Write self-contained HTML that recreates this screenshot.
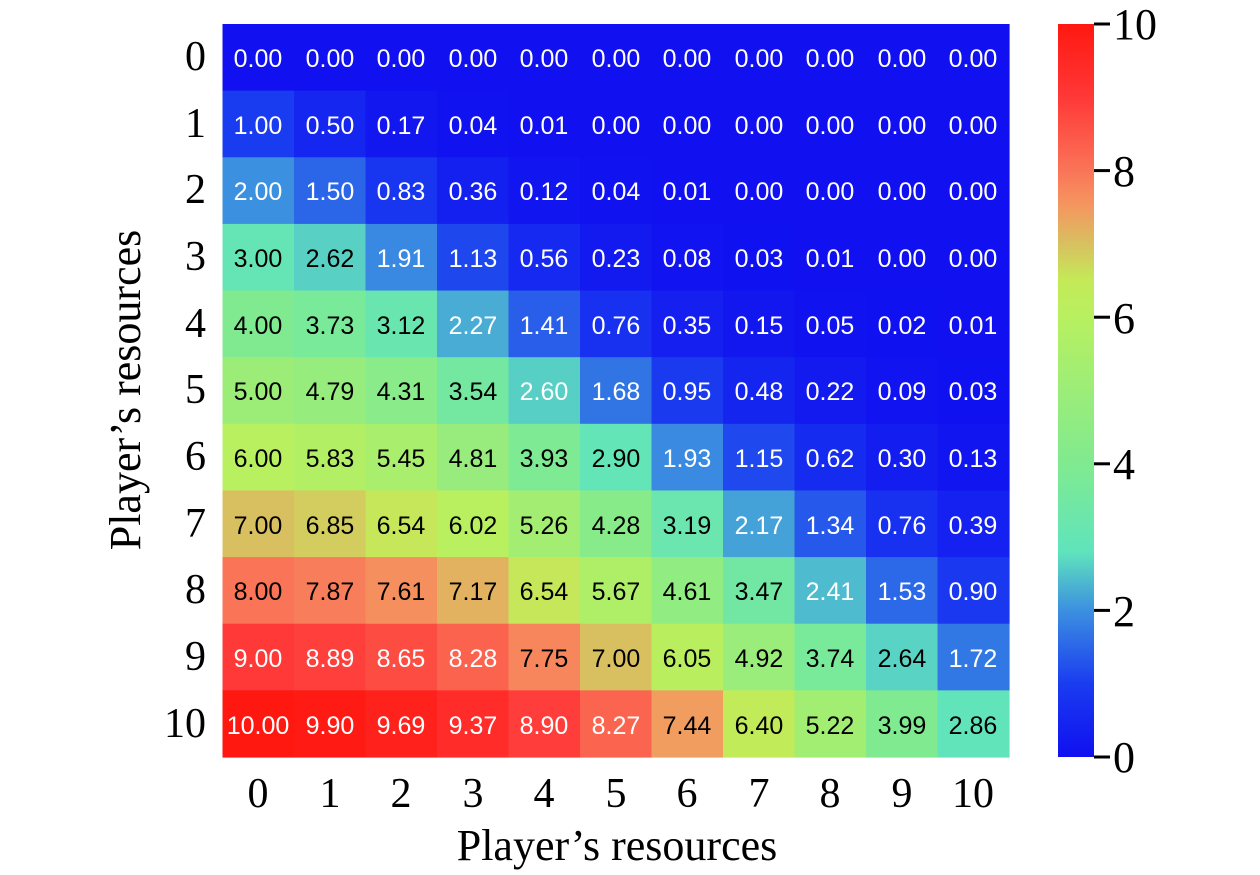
<!DOCTYPE html>
<html><head><meta charset="utf-8"><style>
html,body{margin:0;padding:0;background:#fff;width:1260px;height:875px;overflow:hidden}
svg{display:block}
.t{font-family:"Liberation Sans",sans-serif;font-size:25px;text-anchor:middle}
.s{font-family:"Liberation Serif",serif;fill:#000}
</style></head><body>
<svg id="svg" width="1260" height="875" xmlns="http://www.w3.org/2000/svg">
<defs>
<linearGradient id="cb" x1="0" y1="1" x2="0" y2="0">
<stop offset="0" stop-color="#1010f0"/>
<stop offset="0.1" stop-color="#1a3cf0"/>
<stop offset="0.2" stop-color="#3c90e0"/>
<stop offset="0.28" stop-color="#60e4bc"/>
<stop offset="0.4" stop-color="#80ea90"/>
<stop offset="0.6" stop-color="#b8f060"/>
<stop offset="0.65" stop-color="#c4ea58"/>
<stop offset="0.7" stop-color="#d8c060"/>
<stop offset="0.75" stop-color="#f49860"/>
<stop offset="0.8" stop-color="#fa7458"/>
<stop offset="0.9" stop-color="#ff3838"/>
<stop offset="1" stop-color="#ff1810"/>
</linearGradient>
</defs>
<g id="cells"></g>
<g id="labels" class="t" transform="translate(0,1)">
<text x="258" y="66" fill="#fff">0.00</text><text x="330" y="66" fill="#fff">0.00</text><text x="401" y="66" fill="#fff">0.00</text><text x="473" y="66" fill="#fff">0.00</text><text x="544" y="66" fill="#fff">0.00</text><text x="616" y="66" fill="#fff">0.00</text><text x="687" y="66" fill="#fff">0.00</text><text x="759" y="66" fill="#fff">0.00</text><text x="830" y="66" fill="#fff">0.00</text><text x="902" y="66" fill="#fff">0.00</text><text x="973" y="66" fill="#fff">0.00</text>
<text x="258" y="133" fill="#fff">1.00</text><text x="330" y="133" fill="#fff">0.50</text><text x="401" y="133" fill="#fff">0.17</text><text x="473" y="133" fill="#fff">0.04</text><text x="544" y="133" fill="#fff">0.01</text><text x="616" y="133" fill="#fff">0.00</text><text x="687" y="133" fill="#fff">0.00</text><text x="759" y="133" fill="#fff">0.00</text><text x="830" y="133" fill="#fff">0.00</text><text x="902" y="133" fill="#fff">0.00</text><text x="973" y="133" fill="#fff">0.00</text>
<text x="258" y="199" fill="#fff">2.00</text><text x="330" y="199" fill="#fff">1.50</text><text x="401" y="199" fill="#fff">0.83</text><text x="473" y="199" fill="#fff">0.36</text><text x="544" y="199" fill="#fff">0.12</text><text x="616" y="199" fill="#fff">0.04</text><text x="687" y="199" fill="#fff">0.01</text><text x="759" y="199" fill="#fff">0.00</text><text x="830" y="199" fill="#fff">0.00</text><text x="902" y="199" fill="#fff">0.00</text><text x="973" y="199" fill="#fff">0.00</text>
<text x="258" y="266" fill="#000">3.00</text><text x="330" y="266" fill="#000">2.62</text><text x="401" y="266" fill="#fff">1.91</text><text x="473" y="266" fill="#fff">1.13</text><text x="544" y="266" fill="#fff">0.56</text><text x="616" y="266" fill="#fff">0.23</text><text x="687" y="266" fill="#fff">0.08</text><text x="759" y="266" fill="#fff">0.03</text><text x="830" y="266" fill="#fff">0.01</text><text x="902" y="266" fill="#fff">0.00</text><text x="973" y="266" fill="#fff">0.00</text>
<text x="258" y="333" fill="#000">4.00</text><text x="330" y="333" fill="#000">3.73</text><text x="401" y="333" fill="#000">3.12</text><text x="473" y="333" fill="#fff">2.27</text><text x="544" y="333" fill="#fff">1.41</text><text x="616" y="333" fill="#fff">0.76</text><text x="687" y="333" fill="#fff">0.35</text><text x="759" y="333" fill="#fff">0.15</text><text x="830" y="333" fill="#fff">0.05</text><text x="902" y="333" fill="#fff">0.02</text><text x="973" y="333" fill="#fff">0.01</text>
<text x="258" y="399" fill="#000">5.00</text><text x="330" y="399" fill="#000">4.79</text><text x="401" y="399" fill="#000">4.31</text><text x="473" y="399" fill="#000">3.54</text><text x="544" y="399" fill="#fff">2.60</text><text x="616" y="399" fill="#fff">1.68</text><text x="687" y="399" fill="#fff">0.95</text><text x="759" y="399" fill="#fff">0.48</text><text x="830" y="399" fill="#fff">0.22</text><text x="902" y="399" fill="#fff">0.09</text><text x="973" y="399" fill="#fff">0.03</text>
<text x="258" y="466" fill="#000">6.00</text><text x="330" y="466" fill="#000">5.83</text><text x="401" y="466" fill="#000">5.45</text><text x="473" y="466" fill="#000">4.81</text><text x="544" y="466" fill="#000">3.93</text><text x="616" y="466" fill="#000">2.90</text><text x="687" y="466" fill="#fff">1.93</text><text x="759" y="466" fill="#fff">1.15</text><text x="830" y="466" fill="#fff">0.62</text><text x="902" y="466" fill="#fff">0.30</text><text x="973" y="466" fill="#fff">0.13</text>
<text x="258" y="533" fill="#000">7.00</text><text x="330" y="533" fill="#000">6.85</text><text x="401" y="533" fill="#000">6.54</text><text x="473" y="533" fill="#000">6.02</text><text x="544" y="533" fill="#000">5.26</text><text x="616" y="533" fill="#000">4.28</text><text x="687" y="533" fill="#000">3.19</text><text x="759" y="533" fill="#fff">2.17</text><text x="830" y="533" fill="#fff">1.34</text><text x="902" y="533" fill="#fff">0.76</text><text x="973" y="533" fill="#fff">0.39</text>
<text x="258" y="599" fill="#000">8.00</text><text x="330" y="599" fill="#000">7.87</text><text x="401" y="599" fill="#000">7.61</text><text x="473" y="599" fill="#000">7.17</text><text x="544" y="599" fill="#000">6.54</text><text x="616" y="599" fill="#000">5.67</text><text x="687" y="599" fill="#000">4.61</text><text x="759" y="599" fill="#000">3.47</text><text x="830" y="599" fill="#fff">2.41</text><text x="902" y="599" fill="#fff">1.53</text><text x="973" y="599" fill="#fff">0.90</text>
<text x="258" y="666" fill="#fff">9.00</text><text x="330" y="666" fill="#fff">8.89</text><text x="401" y="666" fill="#fff">8.65</text><text x="473" y="666" fill="#fff">8.28</text><text x="544" y="666" fill="#000">7.75</text><text x="616" y="666" fill="#000">7.00</text><text x="687" y="666" fill="#000">6.05</text><text x="759" y="666" fill="#000">4.92</text><text x="830" y="666" fill="#000">3.74</text><text x="902" y="666" fill="#000">2.64</text><text x="973" y="666" fill="#fff">1.72</text>
<text x="258" y="733" fill="#fff">10.00</text><text x="330" y="733" fill="#fff">9.90</text><text x="401" y="733" fill="#fff">9.69</text><text x="473" y="733" fill="#fff">9.37</text><text x="544" y="733" fill="#fff">8.90</text><text x="616" y="733" fill="#fff">8.27</text><text x="687" y="733" fill="#000">7.44</text><text x="759" y="733" fill="#000">6.40</text><text x="830" y="733" fill="#000">5.22</text><text x="902" y="733" fill="#000">3.99</text><text x="973" y="733" fill="#000">2.86</text>
</g>
<g class="s" font-size="42" text-anchor="end">
<text x="206" y="70">0</text><text x="206" y="137">1</text><text x="206" y="203">2</text><text x="206" y="270">3</text><text x="206" y="337">4</text><text x="206" y="403">5</text><text x="206" y="470">6</text><text x="206" y="537">7</text><text x="206" y="603">8</text><text x="206" y="670">9</text><text x="206" y="737">10</text>
</g>
<g class="s" font-size="42" text-anchor="middle">
<text x="258" y="807">0</text><text x="330" y="807">1</text><text x="401" y="807">2</text><text x="473" y="807">3</text><text x="544" y="807">4</text><text x="616" y="807">5</text><text x="687" y="807">6</text><text x="759" y="807">7</text><text x="830" y="807">8</text><text x="902" y="807">9</text><text x="973" y="807">10</text>
</g>
<text class="s" x="617" y="860" font-size="44" text-anchor="middle">Player’s resources</text>
<text class="s" x="0" y="0" font-size="44" text-anchor="middle" transform="translate(140,390) rotate(-90)">Player’s resources</text>
<rect x="1058" y="24" width="36" height="733" fill="url(#cb)"/>
<g stroke="#000" stroke-width="3">
<line x1="1094" y1="24" x2="1110" y2="24"/><line x1="1094" y1="170.6" x2="1110" y2="170.6"/><line x1="1094" y1="317.2" x2="1110" y2="317.2"/><line x1="1094" y1="463.8" x2="1110" y2="463.8"/><line x1="1094" y1="610.4" x2="1110" y2="610.4"/><line x1="1094" y1="757" x2="1110" y2="757"/>
</g>
<g class="s" font-size="44">
<text x="1113" y="39">10</text><text x="1113" y="186">8</text><text x="1113" y="333">6</text><text x="1113" y="479">4</text><text x="1113" y="626">2</text><text x="1113" y="772">0</text>
</g>
</svg>
<script>
var V=[[0,0,0,0,0,0,0,0,0,0,0],[1,.5,.17,.04,.01,0,0,0,0,0,0],[2,1.5,.83,.36,.12,.04,.01,0,0,0,0],[3,2.62,1.91,1.13,.56,.23,.08,.03,.01,0,0],[4,3.73,3.12,2.27,1.41,.76,.35,.15,.05,.02,.01],[5,4.79,4.31,3.54,2.6,1.68,.95,.48,.22,.09,.03],[6,5.83,5.45,4.81,3.93,2.9,1.93,1.15,.62,.3,.13],[7,6.85,6.54,6.02,5.26,4.28,3.19,2.17,1.34,.76,.39],[8,7.87,7.61,7.17,6.54,5.67,4.61,3.47,2.41,1.53,.9],[9,8.89,8.65,8.28,7.75,7,6.05,4.92,3.74,2.64,1.72],[10,9.9,9.69,9.37,8.9,8.27,7.44,6.4,5.22,3.99,2.86]];
var S=[[0,[16,16,240]],[1,[26,60,240]],[2,[60,144,224]],[2.8,[96,228,188]],[4,[128,234,144]],[6,[184,240,96]],[6.5,[196,234,88]],[7,[216,192,96]],[7.5,[244,152,96]],[8,[250,116,88]],[9,[255,56,56]],[10,[255,24,16]]];
function col(v){for(var i=1;i<S.length;i++){if(v<=S[i][0]){var a=S[i-1],b=S[i],t=(v-a[0])/(b[0]-a[0]);return 'rgb('+[0,1,2].map(function(k){return Math.round(a[1][k]+(b[1][k]-a[1][k])*t)}).join(',')+')';}}return 'rgb(255,24,16)';}
var g=document.getElementById('cells'),h='',x0=222.5,y0=24,w=71.5,hh=733/11;
for(var r=0;r<11;r++)for(var c=0;c<11;c++)h+='<rect x="'+(x0+c*w)+'" y="'+(y0+r*hh)+'" width="'+(w+0.6)+'" height="'+(hh+0.6)+'" fill="'+col(V[r][c])+'"/>';
g.innerHTML=h;
</script>
</body></html>
